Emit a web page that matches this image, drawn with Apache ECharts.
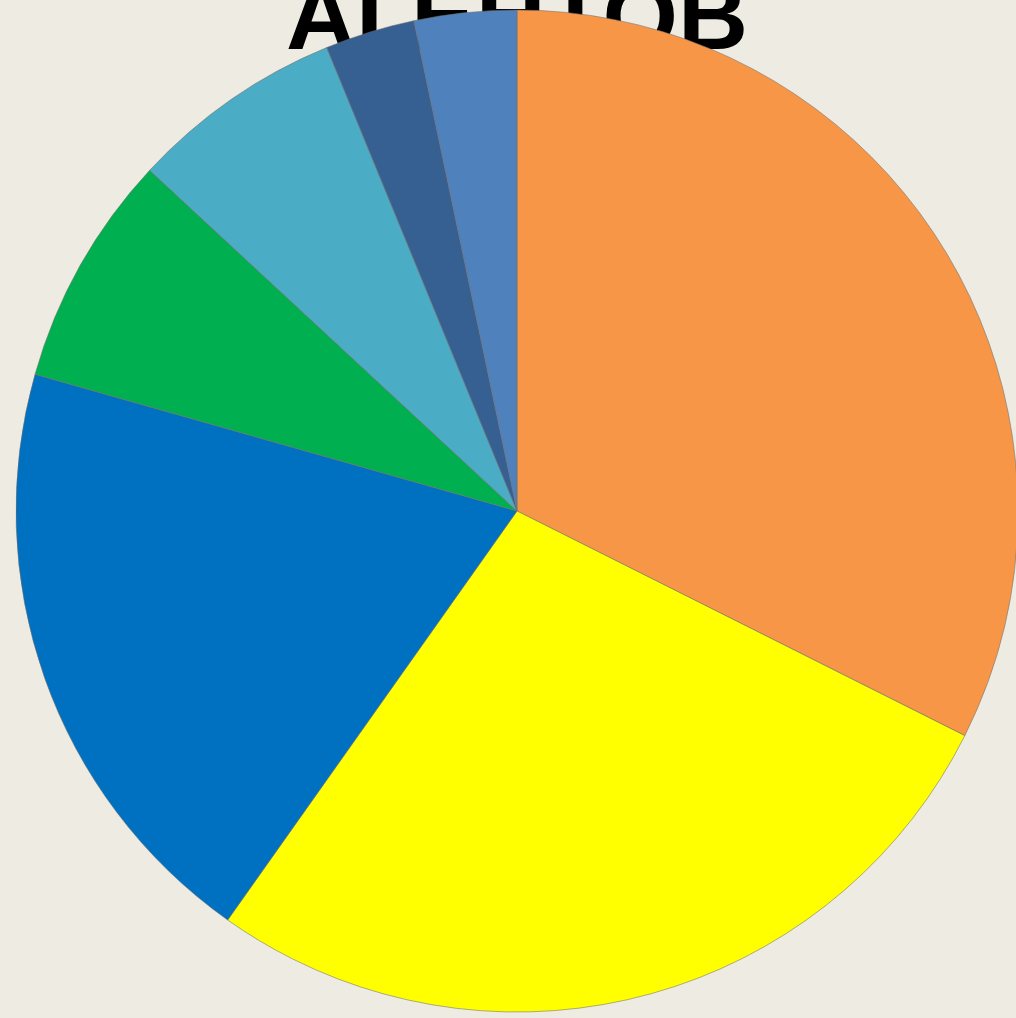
<!DOCTYPE html>
<html>
<head>
<meta charset="utf-8">
<script src="https://cdn.jsdelivr.net/npm/echarts@6/dist/echarts.min.js"></script>
<style>
html,body{margin:0;padding:0;background:#EEECE2;}
#chart{width:1016px;height:1018px;}
</style>
</head>
<body>
<div id="chart"></div>
<script>
var titleText = "АГЕНТОВ";
var categories = ["Сектор 1","Сектор 2","Сектор 3","Сектор 4","Сектор 5","Сектор 6","Сектор 7"];
var values = [32.4, 27.4, 19.6, 7.5, 6.9, 2.9, 3.3];
var colors = ["#F79646","#FFFF00","#0070C0","#00B050","#4BACC6","#376092","#4F81BD"];

var chart = echarts.init(document.getElementById('chart'));
var data = categories.map(function(c,i){
  return {name:c, value:values[i], itemStyle:{color:colors[i]}};
});
chart.setOption({
  backgroundColor:'#EEECE2',
  animation:false,
  graphic:[{
    type:'text', z:0, zlevel:0,
    style:{
      text:titleText, x:517, y:22,
      textAlign:'center', textVerticalAlign:'middle',
      font:'bold 97px "Liberation Sans", Arial, sans-serif',
      fill:'#000000'
    }
  }],
  series:[{
    type:'pie', z:5,
    center:[517,511], radius:[0,501],
    startAngle:90, clockwise:true,
    label:{show:false}, labelLine:{show:false},
    silent:true,
    itemStyle:{borderColor:'rgba(110,110,110,0.55)', borderWidth:1},
    data:data
  }]
});
</script>
</body>
</html>
